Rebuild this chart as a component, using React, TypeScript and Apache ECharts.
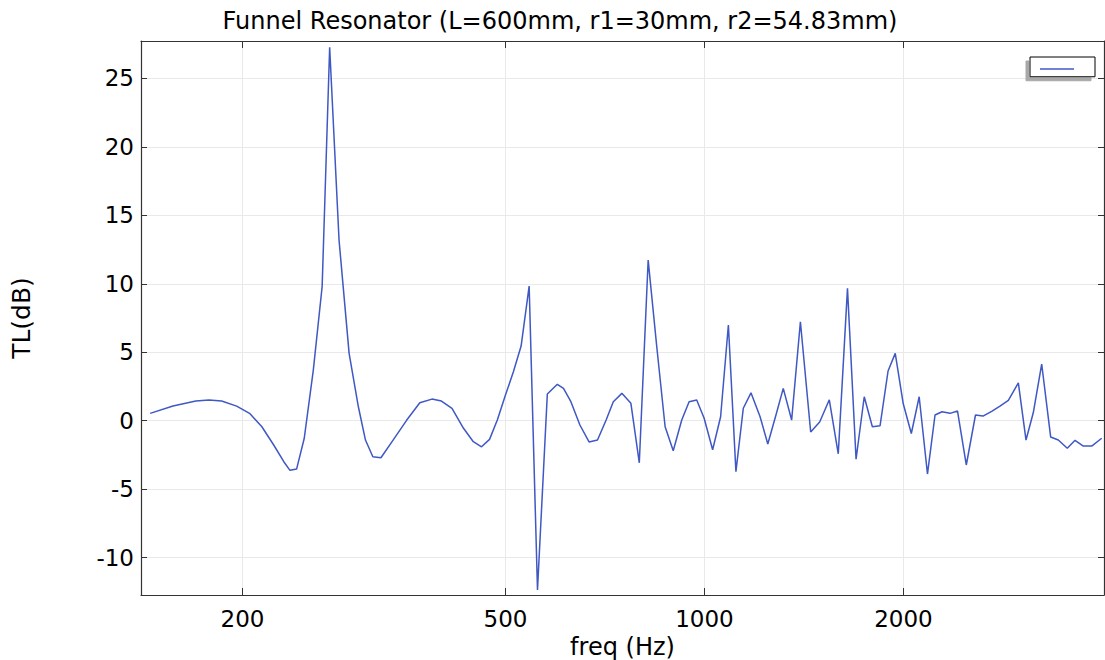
import React, { useEffect, useRef } from "react";
import * as echarts from "echarts";

const freqHz: number[] = [
  145, 157, 170, 178, 186, 196, 205, 214, 223, 231, 236, 241.5, 248, 256, 264, 271,
  280, 290, 299.5, 307, 315, 324, 338, 354.5, 371, 387, 400, 415, 432, 447, 460, 473,
  486, 499, 514, 528, 543, 559, 578.5, 599, 612, 628, 648, 669, 689, 710, 728, 750,
  774, 797, 822, 847, 872, 897, 924, 948, 973.5, 999, 1029, 1058, 1087, 1116, 1145,
  1176, 1214, 1247, 1283, 1316, 1355, 1397, 1448, 1494, 1545, 1594, 1646, 1696, 1745,
  1795, 1844, 1896, 1944, 1999, 2056, 2113, 2175, 2233, 2288, 2353, 2415, 2490, 2571,
  2639, 2720, 2800, 2883, 2985, 3066, 3145, 3238, 3341, 3431, 3540, 3637, 3743, 3854,
  3991,
];

const tlDb: number[] = [
  0.54, 1.07, 1.44, 1.51, 1.44, 1.07, 0.54, -0.44, -1.77, -2.99, -3.62, -3.53, -1.3,
  3.7, 9.8, 27.26, 13.19, 4.92, 1.02, -1.41, -2.63, -2.7, -1.41, 0.05, 1.31, 1.58,
  1.44, 0.91, -0.55, -1.53, -1.9, -1.36, 0.05, 1.75, 3.58, 5.45, 9.83, -12.36, 1.95,
  2.66, 2.36, 1.39, -0.31, -1.55, -1.41, 0.05, 1.39, 2.0, 1.27, -3.07, 11.73, 5.4,
  -0.44, -2.19, 0.05, 1.39, 1.51, 0.18, -2.12, 0.29, 6.99, -3.72, 0.91, 2.04, 0.29,
  -1.7, 0.42, 2.36, 0.05, 7.23, -0.82, -0.09, 1.53, -2.41, 9.66, -2.81, 1.75, -0.44,
  -0.36, 3.63, 4.92, 1.24, -0.93, 1.75, -3.89, 0.42, 0.66, 0.54, 0.71, -3.23, 0.42,
  0.34, 0.69, 1.07, 1.49, 2.77, -1.41, 0.6, 4.14, -1.19, -1.41, -2.01, -1.43, -1.85,
  -1.85, -1.28,
];

const xTicks: number[] = [200, 500, 1000, 2000];
const yTicks: number[] = [-10, -5, 0, 5, 10, 15, 20, 25];

const titleText = "Funnel Resonator (L=600mm, r1=30mm, r2=54.83mm)";
const xName = "freq (Hz)";
const yName = "TL(dB)";

const FONT = "DejaVu Sans";

export default function App() {
  const ref = useRef<HTMLDivElement>(null);

  useEffect(() => {
    if (!ref.current) return;
    const chart = echarts.init(ref.current, undefined, { renderer: "svg" });
    const data = freqHz.map((f, i) => [f, tlDb[i]]);
    const axisColor = "#333";
    const gridColor = "#e9e9e9";
    const lineColor = "#3f58c4";

    const xBase = {
      type: "log" as const,
      logBase: 10,
      min: 140.45,
      max: 4023,
      axisLine: { show: true, onZero: false, lineStyle: { color: axisColor, width: 1.2 } },
      minorTick: { show: false },
      minorSplitLine: { show: false },
    };
    const yBase = {
      type: "value" as const,
      min: -12.72,
      max: 27.72,
      axisLine: { show: true, onZero: false, lineStyle: { color: axisColor, width: 1.2 } },
    };

    chart.setOption({
      animation: false,
      backgroundColor: "#fff",
      title: {
        text: titleText,
        left: 555,
        top: 4,
        textAlign: "center",
        textStyle: { fontFamily: FONT, fontSize: 24, fontWeight: "normal", color: "#000" },
      },
      legend: {
        left: 1030,
        top: 57,
        data: [{ name: "TL", icon: "path://M0,0 L34,0 L34,1.5 L0,1.5 Z" }],
        formatter: () => "",
        itemWidth: 34,
        itemHeight: 10,
        itemGap: 0,
        padding: [7, 21, 7, 10],
        borderColor: "#000",
        borderWidth: 1,
        backgroundColor: "#fff",
        shadowColor: "#a8a8a8",
        shadowBlur: 0,
        shadowOffsetX: -4,
        shadowOffsetY: 4,
        textStyle: { fontSize: 10 },
      },
      grid: {
        left: 141,
        top: 41,
        width: 963,
        height: 554,
        containLabel: false,
        outerBoundsMode: "none",
      },
      xAxis: [
        {
          ...xBase,
          position: "bottom",
          name: xName,
          nameLocation: "middle",
          nameGap: 36,
          nameTextStyle: { fontFamily: FONT, fontSize: 24, color: "#000" },
          axisTick: { show: true, inside: true, length: 7, customValues: xTicks, lineStyle: { color: axisColor } },
          axisLabel: {
            customValues: xTicks,
            formatter: (v: number) => String(v),
            fontFamily: FONT,
            fontSize: 23,
            color: "#000",
            margin: 12,
          },
          splitLine: { show: true, lineStyle: { color: gridColor, width: 1 } },
        },
        {
          ...xBase,
          position: "top",
          axisTick: { show: true, inside: true, length: 7, customValues: xTicks, lineStyle: { color: axisColor } },
          axisLabel: { show: false, customValues: xTicks },
          splitLine: { show: false },
        },
      ],
      yAxis: [
        {
          ...yBase,
          position: "left",
          name: yName,
          nameLocation: "middle",
          nameGap: 107,
          nameRotate: 90,
          nameTextStyle: { fontFamily: FONT, fontSize: 25, color: "#000" },
          axisTick: { show: true, inside: true, length: 6, customValues: yTicks, lineStyle: { color: axisColor } },
          axisLabel: {
            customValues: yTicks,
            formatter: (v: number) => String(v),
            fontFamily: FONT,
            fontSize: 23,
            color: "#000",
            margin: 7,
          },
          splitLine: { show: true, lineStyle: { color: gridColor, width: 1 } },
        },
        {
          ...yBase,
          position: "right",
          axisTick: { show: true, inside: true, length: 6, customValues: yTicks, lineStyle: { color: axisColor } },
          axisLabel: { show: false, customValues: yTicks },
          splitLine: { show: false },
        },
      ],
      series: [
        {
          name: "TL",
          type: "line",
          xAxisIndex: 0,
          yAxisIndex: 0,
          data,
          symbol: "none",
          smooth: false,
          lineStyle: { color: lineColor, width: 1.5 },
          itemStyle: { color: lineColor },
          z: 3,
        },
      ],
    });

    return () => chart.dispose();
  }, []);

  return (
    <div
      ref={ref}
      style={{ position: "absolute", left: 0, top: 0, width: 1105, height: 660, background: "#fff" }}
    />
  );
}
